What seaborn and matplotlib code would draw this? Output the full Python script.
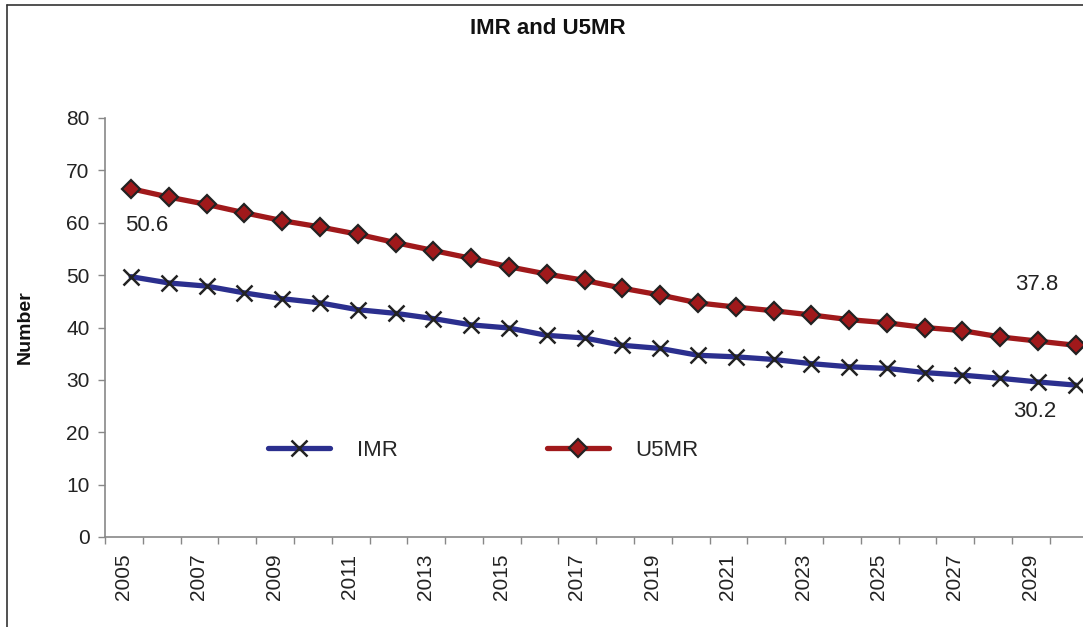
import matplotlib
matplotlib.use("Agg")
import matplotlib.pyplot as plt
from matplotlib.lines import Line2D
import seaborn as sns
import pandas as pd
import numpy as np

# ---- data ----
years = list(range(2005, 2031))
imr = [49.7, 48.5, 47.9, 46.6, 45.5, 44.7, 43.4, 42.7, 41.7, 40.5, 39.9, 38.5, 38.0,
       36.6, 36.0, 34.7, 34.4, 33.9, 33.1, 32.5, 32.2, 31.4, 30.9, 30.3, 29.6, 29.0]
u5mr = [66.5, 64.9, 63.5, 61.9, 60.4, 59.2, 57.8, 56.2, 54.7, 53.2, 51.6, 50.2, 49.0,
        47.5, 46.2, 44.7, 43.9, 43.2, 42.4, 41.5, 40.9, 40.0, 39.4, 38.2, 37.4, 36.6]
series_names = ["IMR", "U5MR"]
tick_years = list(range(2005, 2030, 2))
y_ticks = list(range(0, 81, 10))
annot_texts = ["50.6", "37.8", "30.2"]
title = "IMR and U5MR"
ylabel = "Number"

df = pd.DataFrame({"year": years * 2,
                   "value": imr + u5mr,
                   "series": ["IMR"] * len(years) + ["U5MR"] * len(years)})

sns.set_theme(style="white")
plt.rcParams["font.family"] = ["Liberation Sans", "DejaVu Sans"]

W, H = 1083, 627
fig = plt.figure(figsize=(W / 100, H / 100), dpi=100)
ax = fig.add_axes([105 / W, (H - 537) / H, (W - 105) / W, (537 - 118) / H])

blue = "#2B2F8E"
red = "#A0191B"

sns.lineplot(data=df[df.series == "IMR"], x="year", y="value", ax=ax, color=blue,
             linewidth=3.8, marker="x", markersize=12, markeredgecolor="#222222",
             markeredgewidth=1.8, clip_on=False, label="IMR", legend=False)
sns.lineplot(data=df[df.series == "U5MR"], x="year", y="value", ax=ax, color=red,
             linewidth=3.8, marker="D", markersize=9, markerfacecolor=red,
             markeredgecolor="#222222", markeredgewidth=1.6, clip_on=False,
             label="U5MR", legend=False)

ax.set_xlim(2004.312, 2030.19)
ax.set_ylim(0, 80)
ax.set_yticks(y_ticks)
ax.set_yticklabels([str(v) for v in y_ticks], fontsize=15, color="#222222")
ax.set_xticks([y - 0.21 for y in tick_years])
ax.set_xticklabels([str(y) for y in tick_years], rotation=90, fontsize=15, color="#222222")
ax.set_xticks([y - 0.69 for y in years], minor=True)
ax.tick_params(axis="x", which="major", length=0, pad=12)
ax.tick_params(axis="x", which="minor", length=5, width=1, color="#888888", direction="out", bottom=True)
ax.tick_params(axis="y", which="major", length=5, width=1, color="#888888", direction="out", left=True, pad=6)
ax.set_xlabel("")
ax.set_ylabel("")
for s in ["top", "right"]:
    ax.spines[s].set_visible(False)
for s in ["left", "bottom"]:
    ax.spines[s].set_color("#888888")
    ax.spines[s].set_linewidth(1.2)
ax.grid(False)

# annotations
ax.text(2005.4, 59.5, annot_texts[0], fontsize=16, ha="center", va="center", color="#222222")
ax.text(2028.97, 48.3, annot_texts[1], fontsize=16, ha="center", va="center", color="#222222")
ax.text(2028.92, 24.0, annot_texts[2], fontsize=16, ha="center", va="center", color="#222222")

# legend
handles = [Line2D([], [], color=blue, linewidth=3.8, marker="x", markersize=12,
                  markeredgecolor="#222222", markeredgewidth=1.8),
           Line2D([], [], color=red, linewidth=3.8, marker="D", markersize=9,
                  markerfacecolor=red, markeredgecolor="#222222", markeredgewidth=1.6)]
fig.legend(handles, series_names, loc="center left",
           bbox_to_anchor=(268 / W, 1 - 450 / H), bbox_transform=fig.transFigure,
           ncol=2, frameon=False, fontsize=16, handlelength=2.8, handletextpad=1.2,
           columnspacing=6.7, borderpad=0, borderaxespad=0)

fig.text(548 / W, 1 - 29 / H, title, fontsize=16, fontweight="bold", ha="center",
         va="center", color="#111111")
fig.text(25 / W, 1 - 327 / H, ylabel, fontsize=14, fontweight="bold", rotation=90,
         ha="center", va="center", color="#111111")

# outer border (left and top)
fig.add_artist(Line2D([7 / W, 7 / W], [0, 1 - 5 / H], transform=fig.transFigure,
                      color="#333333", linewidth=1.2))
fig.add_artist(Line2D([7 / W, 1], [1 - 5 / H, 1 - 5 / H], transform=fig.transFigure,
                      color="#333333", linewidth=1.2))

fig.savefig("out.png", dpi=100)
